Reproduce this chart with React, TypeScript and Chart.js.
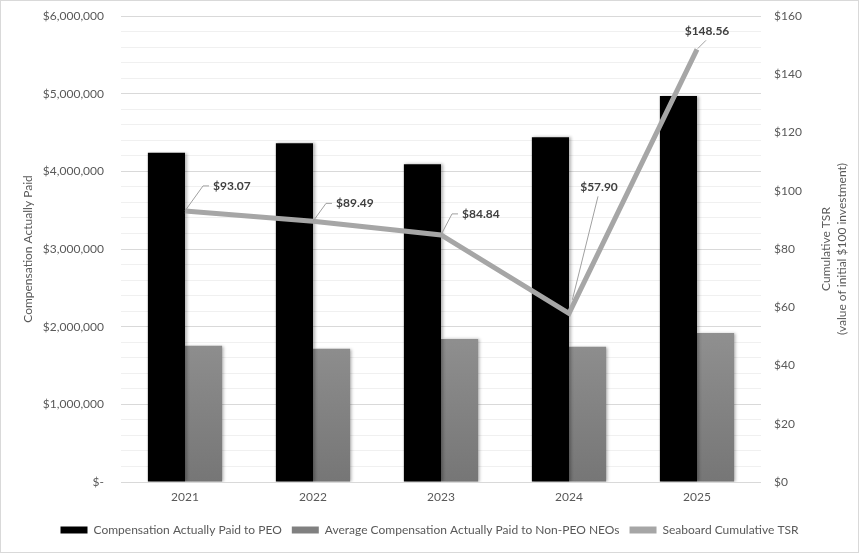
import React, { useEffect, useRef } from "react";
import { Chart, registerables } from "chart.js";

Chart.register(...registerables);

const years = ["2021", "2022", "2023", "2024", "2025"];
const peoPaid = [4240000, 4360000, 4090000, 4440000, 4970000];
const neoPaid = [1755000, 1715000, 1840000, 1740000, 1920000];
const tsr = [93.07, 89.49, 84.84, 57.9, 148.56];
const tsrLabels = ["$93.07", "$89.49", "$84.84", "$57.90", "$148.56"];
const seriesNames = [
  "Compensation Actually Paid to PEO",
  "Average Compensation Actually Paid to Non-PEO NEOs",
  "Seaboard Cumulative TSR",
];
const leftTitle = "Compensation Actually Paid";
const rightTitle = ["Cumulative TSR", "(value of initial $100 investment)"];

// where each TSR label sits relative to its point
const labelSpots = [
  { dx: 28, dy: -25, side: true },
  { dx: 23, dy: -18, side: true },
  { dx: 21, dy: -21, side: true },
  { dx: 30, dy: -126, side: false },
  { dx: 10, dy: -18, side: false },
];

const FONT = "Lato";
const TEXT = "#595959";

const fmtMoney = (v: number) => {
  if (v === 0) return "$-";
  return "$" + Math.round(v).toString().replace(/\B(?=(\d{3})+(?!\d))/g, ",");
};

const tsrLabelPlugin = {
  id: "tsrLabels",
  afterDatasetsDraw(chart: any) {
    const meta = chart.getDatasetMeta(2);
    const c = chart.ctx;
    c.save();
    c.font = `bold 12px ${FONT}`;
    c.fillStyle = "#404040";
    c.strokeStyle = "#a0a0a0";
    c.lineWidth = 1;
    c.textBaseline = "middle";
    meta.data.forEach((pt: any, i: number) => {
      const s = labelSpots[i];
      const tx = pt.x + s.dx;
      const ty = pt.y + s.dy;
      c.beginPath();
      if (s.side) {
        c.moveTo(pt.x, pt.y);
        c.lineTo(tx - 10, ty);
        c.lineTo(tx - 4, ty);
        c.textAlign = "left";
      } else {
        const sx = tx - 1;
        const sy = ty + 9;
        const ang = Math.atan2(pt.y - sy, pt.x - sx);
        const len = Math.hypot(pt.y - sy, pt.x - sx);
        const cut = len > 40 ? 14 : 1;
        c.moveTo(sx, sy);
        c.lineTo(pt.x - Math.cos(ang) * cut, pt.y - Math.sin(ang) * cut);
        c.textAlign = "center";
      }
      c.stroke();
      c.fillText(tsrLabels[i], tx, ty);
    });
    c.restore();
  },
};

const axisTitlePlugin = {
  id: "axisTitles",
  afterDraw(chart: any) {
    const c = chart.ctx;
    const { top, bottom } = chart.chartArea;
    const cy = (top + bottom) / 2;
    c.save();
    c.fillStyle = TEXT;
    c.font = `12px ${FONT}`;
    c.textAlign = "center";
    c.textBaseline = "middle";
    c.translate(27, cy);
    c.rotate(-Math.PI / 2);
    c.fillText(leftTitle, 0, 0);
    c.restore();
    c.save();
    c.fillStyle = TEXT;
    c.font = `12px ${FONT}`;
    c.textAlign = "center";
    c.textBaseline = "middle";
    c.translate(833, cy);
    c.rotate(-Math.PI / 2);
    c.fillText(rightTitle[0], 0, -8);
    c.fillText(rightTitle[1], 0, 8);
    c.restore();
  },
};

const barShadowPlugin = {
  id: "barShadow",
  beforeDatasetDraw(chart: any, args: any) {
    if (args.index > 1) return;
    const c = chart.ctx;
    c.save();
    c.shadowColor = "rgba(0,0,0,0.3)";
    c.shadowBlur = 3;
    c.shadowOffsetX = 1.5;
    c.shadowOffsetY = 0;
  },
  afterDatasetDraw(chart: any, args: any) {
    if (args.index > 1) return;
    chart.ctx.restore();
  },
};

export default function App() {
  const canvasRef = useRef<HTMLCanvasElement | null>(null);
  const chartRef = useRef<Chart | null>(null);

  useEffect(() => {
    if (!canvasRef.current) return;
    Chart.defaults.font.family = FONT;
    Chart.defaults.color = TEXT;

    const grayFill = (ctx: any) => {
      const ch = ctx.chart;
      const area = ch.chartArea;
      if (!area || !ch.scales || !ch.scales.y) return "#858585";
      const g = ch.ctx.createLinearGradient(0, ch.scales.y.getPixelForValue(1950000), 0, area.bottom);
      g.addColorStop(0, "#909090");
      g.addColorStop(1, "#767676");
      return g;
    };

    chartRef.current = new Chart(canvasRef.current, {
      type: "bar",
      data: {
        labels: years,
        datasets: [
          {
            label: seriesNames[0],
            data: peoPaid,
            backgroundColor: "#000000",
            yAxisID: "y",
            order: 1,
            categoryPercentage: 0.58,
            barPercentage: 1,
          },
          {
            label: seriesNames[1],
            data: neoPaid,
            backgroundColor: grayFill,
            yAxisID: "y",
            order: 2,
            categoryPercentage: 0.58,
            barPercentage: 1,
          },
          {
            type: "line",
            label: seriesNames[2],
            data: tsr,
            borderColor: "#a6a6a6",
            backgroundColor: "#a6a6a6",
            borderWidth: 5,
            pointRadius: 0,
            tension: 0,
            yAxisID: "y1",
            order: 0,
          } as any,
        ],
      },
      options: {
        responsive: false,
        animation: false,
        layout: { padding: { top: 15, bottom: 6, left: 0, right: 0 } },
        plugins: {
          tooltip: { enabled: false },
          legend: {
            position: "bottom",
            labels: {
              boxWidth: 27,
              boxHeight: 7,
              padding: 10,
              color: TEXT,
              font: { size: 12, family: FONT },
              sort: (a: any, b: any) => a.datasetIndex - b.datasetIndex,
              generateLabels: () => {
                const fills = ["#000000", "#808080", "#a6a6a6"];
                return seriesNames.map((name, i) => ({
                  text: name,
                  fillStyle: fills[i],
                  strokeStyle: fills[i],
                  lineWidth: 0,
                  hidden: false,
                  datasetIndex: i,
                  fontColor: TEXT,
                }));
              },
            },
          },
        },
        scales: {
          x: {
            grid: { display: false, drawTicks: false },
            border: { display: false },
            ticks: { color: TEXT, font: { size: 12 }, padding: 8 },
            afterFit: (s: any) => {
              s.height = 32;
            },
          },
          y: {
            position: "left",
            min: 0,
            max: 6000000,
            border: { display: false },
            grid: {
              drawTicks: false,
              color: (ctx: any) =>
                ctx.tick && ctx.tick.value % 1000000 === 0 ? "#d9d9d9" : "#f0f0f0",
            },
            ticks: {
              stepSize: 200000,
              autoSkip: false,
              padding: 17,
              color: TEXT,
              font: { size: 12 },
              callback: (v: any) => (Number(v) % 1000000 === 0 ? fmtMoney(Number(v)) : ""),
            },
            afterFit: (s: any) => {
              s.width = 120;
              s.paddingTop = 8;
              s.paddingBottom = 8;
            },
          },
          y1: {
            position: "right",
            min: 0,
            max: 160,
            border: { display: false },
            grid: { display: false, drawTicks: false },
            ticks: {
              stepSize: 20,
              padding: 13,
              color: TEXT,
              font: { size: 12 },
              callback: (v: any) => "$" + v,
            },
            afterFit: (s: any) => {
              s.width = 97;
              s.paddingTop = 8;
              s.paddingBottom = 8;
            },
          },
        },
      },
      plugins: [barShadowPlugin, tsrLabelPlugin, axisTitlePlugin],
    });

    return () => {
      if (chartRef.current) {
        chartRef.current.destroy();
        chartRef.current = null;
      }
    };
  }, []);

  return (
    <div
      style={{
        position: "fixed",
        left: 0,
        top: 0,
        width: 859,
        height: 553,
        background: "#ffffff",
        border: "1px solid #d9d9d9",
        boxSizing: "border-box",
        overflow: "hidden",
      }}
    >
      <canvas ref={canvasRef} width={857} height={551} style={{ display: "block" }} />
    </div>
  );
}
